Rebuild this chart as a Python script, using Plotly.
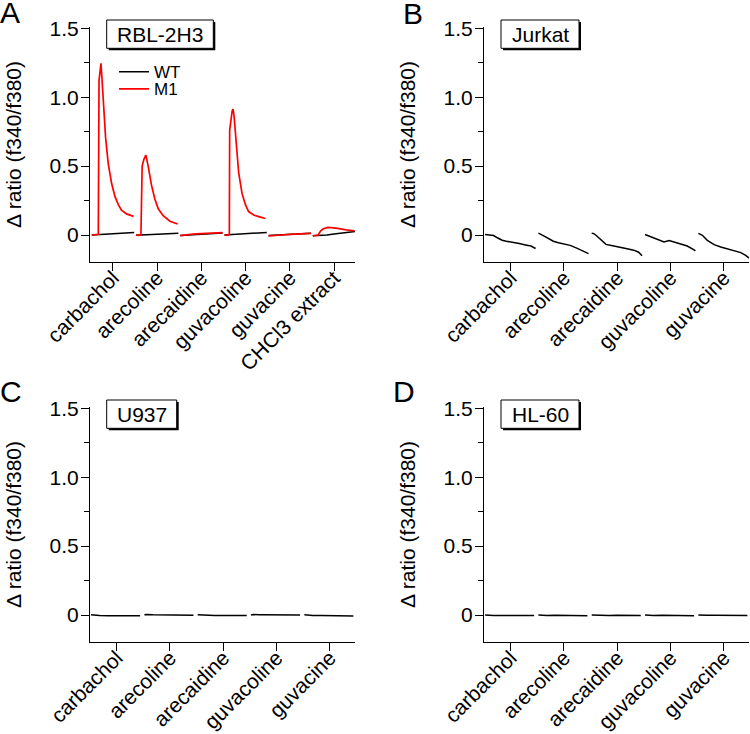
import plotly.graph_objects as go

# ---------------- data ----------------
categories_rbl = ["carbachol", "arecoline", "arecaidine", "guvacoline", "guvacine", "CHCl3 extract"]
categories_other = ["carbachol", "arecoline", "arecaidine", "guvacoline", "guvacine"]

# time (s) within each recording segment, and Δ ratio values
rbl_wt_time = [[0, 40, 80, 120, 160, 200, 240]] * 6
rbl_wt_ratio = [
    [0.0, 0.003, 0.004, 0.008, 0.010, 0.014, 0.018],
    [-0.002, 0.001, 0.003, 0.005, 0.007, 0.010, 0.012],
    [-0.003, 0.0, 0.003, 0.006, 0.009, 0.012, 0.015],
    [0.0, 0.003, 0.006, 0.009, 0.012, 0.016, 0.019],
    [-0.004, -0.002, 0.001, 0.004, 0.006, 0.009, 0.012],
    [-0.006, -0.004, 0.0, 0.007, 0.013, 0.019, 0.025],
]

rbl_m1_time = [
    [0, 20, 37, 41, 52, 58, 65, 78, 93, 112, 131, 150, 168, 197, 236],
    [0, 15, 28, 31, 35, 45, 56, 69, 88, 107, 126, 154, 192, 236],
    [0, 30, 60, 90, 120, 150, 180, 210, 240],
    [0, 15, 28, 30, 44, 49, 55, 62, 71, 81, 100, 119, 137, 166, 194, 232],
    [0, 30, 60, 90, 120, 150, 180, 210, 240],
    [0, 20, 30, 45, 60, 85, 132, 189, 236],
]
rbl_m1_ratio = [
    [0.0, 0.002, 0.005, 1.12, 1.245, 1.13, 0.95, 0.71, 0.52, 0.375, 0.28, 0.22, 0.18, 0.153, 0.135],
    [0.0, -0.003, 0.0, 0.30, 0.50, 0.55, 0.58, 0.50, 0.36, 0.26, 0.19, 0.14, 0.10, 0.08],
    [-0.004, 0.002, 0.004, 0.008, 0.010, 0.012, 0.015, 0.016, 0.018],
    [0.0, -0.002, 0.005, 0.76, 0.90, 0.913, 0.86, 0.74, 0.57, 0.45, 0.30, 0.22, 0.17, 0.145, 0.133, 0.12],
    [-0.006, -0.002, 0.0, 0.002, 0.004, 0.006, 0.009, 0.010, 0.012],
    [-0.006, -0.004, 0.0, 0.030, 0.045, 0.055, 0.050, 0.037, 0.030],
]

jurkat_time = [
    [0, 20, 40, 60, 80, 100, 130, 160, 190, 215, 237],
    [0, 5, 23, 47, 70, 94, 117, 149, 180, 211, 235],
    [0, 10, 20, 44, 67, 98, 135, 166, 197, 220, 236],
    [0, 3, 19, 42, 66, 89, 113, 136, 167, 198, 230, 236],
    [0, 3, 19, 42, 74, 105, 136, 167, 199, 222, 238],
]
jurkat_ratio = [
    [0.004, 0.0, -0.004, -0.022, -0.038, -0.045, -0.052, -0.062, -0.072, -0.080, -0.098],
    [0.012, 0.010, -0.005, -0.025, -0.045, -0.056, -0.062, -0.075, -0.095, -0.115, -0.135],
    [0.012, 0.010, -0.002, -0.039, -0.068, -0.078, -0.087, -0.100, -0.110, -0.125, -0.150],
    [0.004, 0.002, -0.007, -0.022, -0.039, -0.050, -0.040, -0.050, -0.063, -0.080, -0.108, -0.115],
    [0.012, 0.010, -0.002, -0.039, -0.070, -0.087, -0.100, -0.111, -0.128, -0.148, -0.167],
]

flat_time = [[0, 10, 40, 80, 120, 160, 200, 230]] * 5
u937_ratio = [
    [0.002, 0.0, -0.004, -0.005, -0.005, -0.006, -0.004, -0.006],
    [0.002, 0.004, 0.002, 0.001, 0.002, 0.0, 0.001, -0.001],
    [0.001, 0.0, -0.002, -0.003, -0.004, -0.004, -0.005, -0.004],
    [0.0, 0.003, 0.002, 0.001, 0.001, 0.0, 0.001, 0.0],
    [0.002, 0.0, -0.003, -0.004, -0.004, -0.006, -0.006, -0.007],
]
hl60_ratio = [
    [0.0, -0.002, -0.003, -0.003, -0.004, -0.003, -0.004, -0.004],
    [0.0, -0.002, -0.003, -0.002, -0.004, -0.003, -0.004, -0.005],
    [0.0, -0.001, -0.002, -0.003, -0.002, -0.003, -0.004, -0.004],
    [0.0, -0.001, -0.003, -0.002, -0.004, -0.004, -0.005, -0.005],
    [0.0, -0.001, -0.002, -0.002, -0.003, -0.003, -0.004, -0.004],
]

y_tickvals = [0, 0.5, 1.0, 1.5]
y_ticktext = ["0", "0.5", "1.0", "1.5"]
y_minor = [0.25, 0.75, 1.25]
panel_letters = ["A", "B", "C", "D"]
cell_lines = ["RBL-2H3", "Jurkat", "U937", "HL-60"]

# ---------------- layout helpers ----------------
W, H = 750, 734
SEG_START = -0.48   # segment start relative to category centre
SEG_SPAN = 250.0    # seconds per category unit
FONT = "Liberation Sans, Arial, Helvetica, sans-serif"


def px_x(v):
    return v / W


def px_y(v):
    return 1 - v / H


def seg_xy(times, values):
    xs, ys = [], []
    for i, (ts, vs) in enumerate(zip(times, values)):
        xs += [i + SEG_START + t / SEG_SPAN for t in ts] + [None]
        ys += list(vs) + [None]
    return xs, ys


fig = go.Figure()

# panel A
x, y = seg_xy(rbl_wt_time, rbl_wt_ratio)
fig.add_trace(go.Scatter(x=x, y=y, mode="lines", name="WT", line=dict(color="black", width=1.5),
                         xaxis="x", yaxis="y", legend="legend"))
x, y = seg_xy(rbl_m1_time, rbl_m1_ratio)
fig.add_trace(go.Scatter(x=x, y=y, mode="lines", name="M1", line=dict(color="#ff0000", width=1.7),
                         xaxis="x", yaxis="y", legend="legend2"))
# panel B
x, y = seg_xy(jurkat_time, jurkat_ratio)
fig.add_trace(go.Scatter(x=x, y=y, mode="lines", showlegend=False, line=dict(color="black", width=1.5),
                         xaxis="x2", yaxis="y2"))
# panel C
x, y = seg_xy(flat_time, u937_ratio)
fig.add_trace(go.Scatter(x=x, y=y, mode="lines", showlegend=False, line=dict(color="black", width=1.5),
                         xaxis="x3", yaxis="y3"))
# panel D
x, y = seg_xy(flat_time, hl60_ratio)
fig.add_trace(go.Scatter(x=x, y=y, mode="lines", showlegend=False, line=dict(color="black", width=1.5),
                         xaxis="x4", yaxis="y4"))

# geometry in pixels
left_px = [(90, 355), (484, 749), (90, 355), (484, 749)]
top_px = [(26.6, 262.3), (26.6, 262.3), (406.6, 642.3), (406.6, 642.3)]
x_ranges = [[-0.52, 5.475], [-0.5, 4.47], [-0.5, 4.47], [-0.5, 4.47]]
cats = [categories_rbl, categories_other, categories_other, categories_other]

axis_font = dict(family=FONT, size=21, color="black")
layout = dict(
    template="none",
    width=W, height=H, margin=dict(l=0, r=0, t=0, b=0),
    paper_bgcolor="white", plot_bgcolor="white",
    font=dict(family=FONT, color="black"),
)
for k in range(4):
    sfx = "" if k == 0 else str(k + 1)
    layout["xaxis" + sfx] = dict(
        domain=[px_x(left_px[k][0]), px_x(left_px[k][1])],
        anchor="y" + sfx, range=x_ranges[k], automargin=False,
        tickvals=list(range(len(cats[k]))), ticktext=cats[k], tickangle=-45,
        ticks="outside", ticklen=8, tickwidth=1.2, tickcolor="black", ticklabelstandoff=-14,
        showline=True, linecolor="black", linewidth=1.2,
        showgrid=False, zeroline=False, tickfont=dict(family=FONT, size=21, color="black"),
    )
    layout["yaxis" + sfx] = dict(
        domain=[px_y(top_px[k][1]), px_y(top_px[k][0])],
        anchor="x" + sfx, range=[-0.198, 1.512], automargin=False,
        tickvals=y_tickvals, ticktext=y_ticktext,
        ticks="outside", ticklen=8, tickwidth=1.2, tickcolor="black", ticklabelstandoff=-2,
        minor=dict(tickvals=y_minor, ticks="outside", ticklen=5, tickwidth=1.2, tickcolor="black"),
        showline=True, linecolor="black", linewidth=1.2,
        showgrid=False, zeroline=False, tickfont=axis_font,
        title=dict(text="Δ ratio (f340/f380)", font=axis_font, standoff=22),
    )

layout["legend"] = dict(x=px_x(114), y=px_y(72.3), xanchor="left", yanchor="middle",
                        bgcolor="rgba(0,0,0,0)", font=dict(family=FONT, size=17, color="black"),
                        itemwidth=30, tracegroupgap=0)
layout["legend2"] = dict(x=px_x(114), y=px_y(89.3), xanchor="left", yanchor="middle",
                         bgcolor="rgba(0,0,0,0)", font=dict(family=FONT, size=17, color="black"),
                         itemwidth=30, tracegroupgap=0)

fig.update_layout(**layout)

# panel letters
letter_pos = [(-2, -6), (401, -5), (-2, 373), (391, 373)]
for k in range(4):
    fig.add_annotation(text=panel_letters[k], x=px_x(letter_pos[k][0]), y=px_y(letter_pos[k][1]),
                       xref="paper", yref="paper", xanchor="left", yanchor="top", showarrow=False,
                       font=dict(family=FONT, size=30, color="black"))

# cell-line label boxes (with drop shadow)
box_px = [(106.7, 20, 213.3, 48.3), (501, 20, 579, 48.3), (106.7, 400, 176.7, 428.3), (501, 400, 579, 428.3)]
for k in range(4):
    x0, y0, x1, y1 = box_px[k]
    fig.add_shape(type="rect", xref="paper", yref="paper",
                  x0=px_x(x0 + 2), x1=px_x(x1 + 2), y0=px_y(y1 + 2), y1=px_y(y0 + 2),
                  fillcolor="black", line=dict(width=0))
    fig.add_shape(type="rect", xref="paper", yref="paper",
                  x0=px_x(x0), x1=px_x(x1), y0=px_y(y1), y1=px_y(y0),
                  fillcolor="white", line=dict(color="black", width=1))
    fig.add_annotation(text=cell_lines[k], x=px_x((x0 + x1) / 2), y=px_y((y0 + y1) / 2),
                       xref="paper", yref="paper", xanchor="center", yanchor="middle", showarrow=False,
                       font=dict(family=FONT, size=21, color="black"))

fig.write_html("out.html", config={"displayModeBar": False},
               post_script="document.body.style.margin='0';document.body.style.overflow='hidden';")
